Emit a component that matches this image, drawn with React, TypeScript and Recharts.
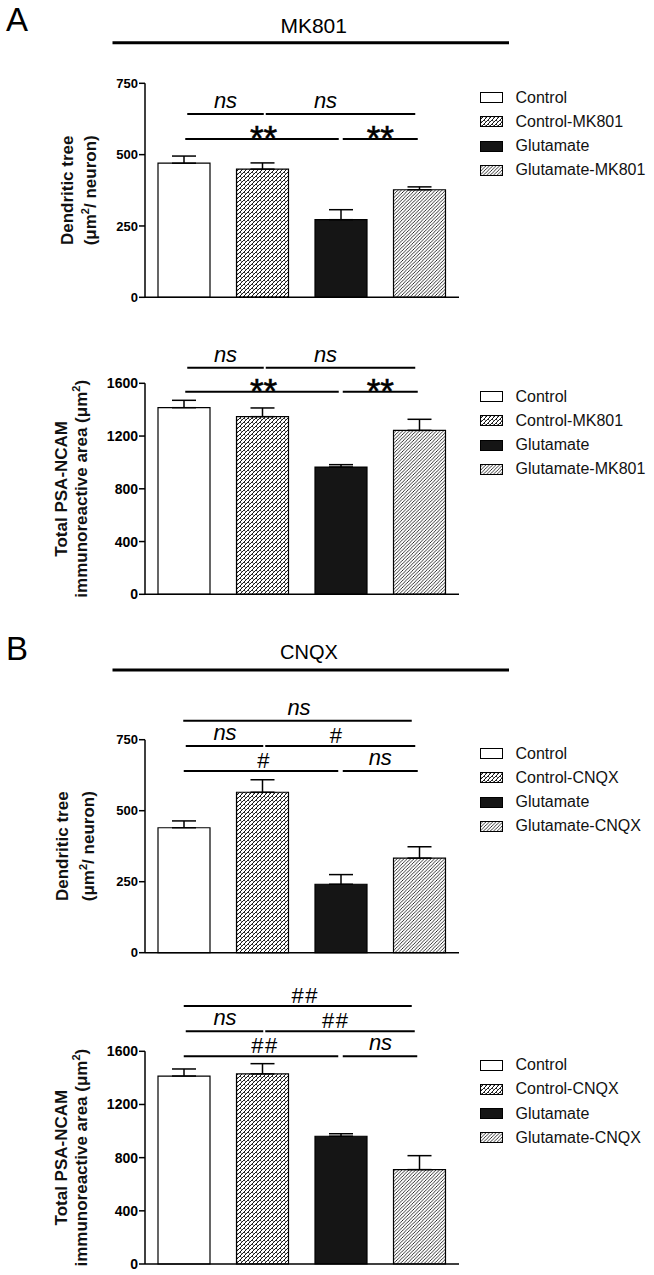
import React from 'react';
import { BarChart, Bar, XAxis, YAxis, ErrorBar, Cell, ReferenceLine, Legend } from 'recharts';

// ---------- data ----------
const mkGroups = ['Control', 'Control-MK801', 'Glutamate', 'Glutamate-MK801'];
const cnqxGroups = ['Control', 'Control-CNQX', 'Glutamate', 'Glutamate-CNQX'];

const mkDendriticMean = [470, 449, 272, 377];
const mkDendriticSem = [25, 22, 35, 10];
const mkPsaMean = [1415, 1347, 965, 1243];
const mkPsaSem = [56, 66, 18, 84];
const cnqxDendriticMean = [440, 565, 241, 333];
const cnqxDendriticSem = [24, 44, 34, 40];
const cnqxPsaMean = [1414, 1430, 961, 710];
const cnqxPsaSem = [53, 77, 19, 105];

const dendriticTicks = [0, 250, 500, 750];
const psaTicks = [0, 400, 800, 1200, 1600];

// significance brackets: from/to are group indices, level in data units
type Sig = { from: number; to: number; level: number; text: string };
const mkDendriticSig: Sig[] = [
  { from: 0, to: 1, level: 642, text: 'ns' },
  { from: 1, to: 3, level: 642, text: 'ns' },
  { from: 0, to: 2, level: 555, text: '**' },
  { from: 2, to: 3, level: 555, text: '**' },
];
const mkPsaSig: Sig[] = [
  { from: 0, to: 1, level: 1718, text: 'ns' },
  { from: 1, to: 3, level: 1718, text: 'ns' },
  { from: 0, to: 2, level: 1536, text: '**' },
  { from: 2, to: 3, level: 1536, text: '**' },
];
const cnqxDendriticSig: Sig[] = [
  { from: 0, to: 3, level: 817, text: 'ns' },
  { from: 0, to: 1, level: 728, text: 'ns' },
  { from: 1, to: 3, level: 728, text: '#' },
  { from: 0, to: 2, level: 640, text: '#' },
  { from: 2, to: 3, level: 640, text: 'ns' },
];
const cnqxPsaSig: Sig[] = [
  { from: 0, to: 3, level: 1941, text: '##' },
  { from: 0, to: 1, level: 1750, text: 'ns' },
  { from: 1, to: 3, level: 1750, text: '##' },
  { from: 0, to: 2, level: 1562, text: '##' },
  { from: 2, to: 3, level: 1562, text: 'ns' },
];

// drawing nudges (pixels): [start dx, end dx, label dx]
const mkNudge = [
  [3, 1, 0],
  [3, -4.5, -15],
  [1, -2.5, 1.5],
  [1.5, -2, 0],
];
const cnqxNudge = [
  [-1, -8, 1.5],
  [1.5, 0.5, 0.5],
  [2.5, -4.5, -4.5],
  [-0.5, -3, 2.3],
  [1.5, -2, 0],
];
const cnqxPsaNudge = [
  [-0.5, -8, 7.5],
  [1.5, 0.5, 0.5],
  [2.5, -5, -4.2],
  [-0.5, -3, 4],
  [1.5, -2.5, 0.5],
];

const fills = ['#ffffff', 'url(#patZig)', '#151515', 'url(#patDiag)'];

const FONT = '"Liberation Sans", Arial, Helvetica, sans-serif';

type TitleSeg = { t: string; sup?: boolean };
const dendriticTitle: TitleSeg[][] = [
  [{ t: 'Dendritic tree' }],
  [{ t: '(\u03bcm' }, { t: '2', sup: true }, { t: '/ neuron)' }],
];
const psaTitle: TitleSeg[][] = [
  [{ t: 'Total PSA-NCAM' }],
  [{ t: 'immunoreactive area (\u03bcm' }, { t: '2', sup: true }, { t: ')' }],
];

function labelStyle(text: string) {
  if (text === 'ns') return { size: 22, italic: true, dy: -6, ls: 0, w: 400 };
  if (text === '**') return { size: 35, italic: false, dy: 11.2, ls: 0, w: 400 };
  if (text === '##') return { size: 22, italic: false, dy: -3.3, ls: 1.5, w: 400 };
  return { size: 22, italic: false, dy: -3, ls: 0, w: 400 };
}

function makeShape(sig: Sig, n: number[]) {
  return (p: any) => {
    const x1 = p.x1 + n[0];
    const x2 = p.x2 + n[1];
    const y = p.y1;
    const st = labelStyle(sig.text);
    return (
      <g>
        <line x1={x1} y1={y} x2={x2} y2={y} stroke="#000" strokeWidth={2} />
        <text
          x={(x1 + x2) / 2 + n[2]}
          y={y + st.dy}
          textAnchor="middle"
          fontSize={st.size}
          fontWeight={st.w}
          fontStyle={st.italic ? 'italic' : 'normal'}
          fontFamily={FONT}
          letterSpacing={st.ls}
          fill="#000"
          stroke={sig.text === '**' ? '#000' : 'none'}
          strokeWidth={sig.text === '**' ? 0.6 : 0}
        >
          {sig.text}
        </text>
      </g>
    );
  };
}

function Swatch({ fill }: { fill: string }) {
  return (
    <svg width={23} height={11} style={{ display: 'block' }}>
      <rect x={0.5} y={0.5} width={22} height={10} fill={fill} stroke="#000" strokeWidth={1} />
    </svg>
  );
}

function LegendBox({ groups }: { groups: string[] }) {
  return (
    <div style={{ fontFamily: FONT, fontSize: 16, color: '#111' }}>
      {groups.map((g, i) => (
        <div key={g} style={{ display: 'flex', alignItems: 'center', height: 24.2, whiteSpace: 'nowrap' }}>
          <Swatch fill={fills[i]} />
          <span style={{ marginLeft: 12.5, lineHeight: '16px' }}>{g}</span>
        </div>
      ))}
    </div>
  );
}

type PanelProps = {
  top: number;
  height: number;
  plotTop: number;
  plotBottom: number;
  groups: string[];
  means: number[];
  sems: number[];
  ticks: number[];
  sigs: Sig[];
  nudges: number[][];
  title: TitleSeg[][];
  titleX: number[];
  tickFont: number;
  legendTop: number;
};

function Panel(props: PanelProps) {
  const { top, height, plotTop, plotBottom, groups, means, sems, ticks, sigs, nudges, title, titleX, tickFont, legendTop } = props;
  const data = groups.map((g, i) => ({ name: g, value: means[i], err: [0, sems[i]] }));
  const margin = { top: plotTop, left: 85, right: 195, bottom: height - plotBottom - 5 };
  const cy = (plotTop + plotBottom) / 2;
  const renderTitle = () => (
    <g>
      {title.map((line, li) => (
        <text
          key={li}
          x={titleX[li]}
          y={cy}
          transform={`rotate(-90, ${titleX[li]}, ${cy})`}
          textAnchor="middle"
          fontSize={17}
          fontWeight={700}
          fontFamily={FONT}
          fill="#111"
        >
          {line.map((s, si) =>
            s.sup ? (
              <tspan key={si} fontSize={11} dy={-7}>
                {s.t}
              </tspan>
            ) : (
              <tspan key={si} dy={si > 0 && line[si - 1].sup ? 7 : 0}>
                {s.t}
              </tspan>
            ),
          )}
        </text>
      ))}
    </g>
  );
  return (
    <div style={{ position: 'absolute', left: 0, top, width: 654, height }}>
      <BarChart width={654} height={height} data={data} margin={margin}>
        <XAxis
          dataKey="name"
          type="category"
          height={5}
          tick={false}
          tickLine={false}
          axisLine={{ stroke: '#000', strokeWidth: 1.5 }}
        />
        <YAxis
          width={60}
          domain={[0, ticks[ticks.length - 1]]}
          ticks={ticks}
          interval={0}
          tickSize={6}
          tickMargin={1}
          tick={{ fill: '#000', fontSize: tickFont, fontWeight: 700, fontFamily: FONT }}
          tickLine={{ stroke: '#000', strokeWidth: 1.5 }}
          axisLine={{ stroke: '#000', strokeWidth: 1.5 }}
          label={{ content: renderTitle }}
        />
        <Bar dataKey="value" barSize={52} isAnimationActive={false}>
          {data.map((d, i) => (
            <Cell key={d.name} fill={fills[i]} stroke="#000" strokeWidth={1.2} />
          ))}
          <ErrorBar dataKey="err" width={12} stroke="#000" strokeWidth={1.5} direction="y" isAnimationActive={false} />
        </Bar>
        {sigs.map((s, i) => (
          <ReferenceLine
            key={i}
            ifOverflow="visible"
            segment={[
              { x: groups[s.from], y: s.level },
              { x: groups[s.to], y: s.level },
            ]}
            shape={makeShape(s, nudges[i])}
          />
        ))}
        <Legend
          layout="vertical"
          align="center"
          verticalAlign="middle"
          wrapperStyle={{ left: 480, top: legendTop, width: 174 }}
          content={() => <LegendBox groups={groups} />}
        />
      </BarChart>
    </div>
  );
}

export default function App() {
  return (
    <div
      style={{
        position: 'absolute',
        left: 0,
        top: 0,
        width: 654,
        height: 1275,
        background: '#fff',
        overflow: 'hidden',
        fontFamily: FONT,
      }}
    >
      <svg width={654} height={1275} style={{ position: 'absolute', left: 0, top: 0, pointerEvents: 'none' }}>
        <defs>
          <pattern id="patZig" width={4} height={4} patternUnits="userSpaceOnUse">
            <rect width={4} height={4} fill="#fff" />
            <path d="M0,4 L4,0 M-1,1 L1,-1 M3,5 L5,3" stroke="#000" strokeWidth={0.9} />
            <path d="M0,0 L1.6,1.6" stroke="#000" strokeWidth={0.8} />
          </pattern>
          <pattern id="patDiag" width={3.4} height={3.4} patternUnits="userSpaceOnUse">
            <rect width={3.4} height={3.4} fill="#fff" />
            <path d="M0,3.4 L3.4,0 M-1,1 L1,-1 M2.4,4.4 L4.4,2.4" stroke="#000" strokeWidth={0.8} />
          </pattern>
        </defs>
        <text x={6} y={30.7} fontSize={33} fontFamily={FONT} fill="#000">
          A
        </text>
        <text x={313.7} y={33.3} fontSize={21} fontFamily={FONT} textAnchor="middle" fill="#000">
          MK801
        </text>
        <line x1={112.5} y1={42.7} x2={509} y2={42.7} stroke="#000" strokeWidth={3} />
        <text x={6} y={660} fontSize={33} fontFamily={FONT} fill="#000">
          B
        </text>
        <text x={309} y={659.3} fontSize={20} fontFamily={FONT} textAnchor="middle" fill="#000">
          CNQX
        </text>
        <line x1={112.5} y1={670} x2={509} y2={670} stroke="#000" strokeWidth={3} />
      </svg>

      <Panel
        top={0}
        height={310}
        plotTop={83.3}
        plotBottom={297.3}
        groups={mkGroups}
        means={mkDendriticMean}
        sems={mkDendriticSem}
        ticks={dendriticTicks}
        sigs={mkDendriticSig}
        nudges={mkNudge}
        title={dendriticTitle}
        titleX={[72.9, 96.4]}
        tickFont={13}
        legendTop={85.6}
      />
      <Panel
        top={310}
        height={310}
        plotTop={73.3}
        plotBottom={284.3}
        groups={mkGroups}
        means={mkPsaMean}
        sems={mkPsaSem}
        ticks={psaTicks}
        sigs={mkPsaSig}
        nudges={mkNudge}
        title={psaTitle}
        titleX={[66.7, 87.2]}
        tickFont={14}
        legendTop={74.6}
      />
      <Panel
        top={620}
        height={340}
        plotTop={119.7}
        plotBottom={332.7}
        groups={cnqxGroups}
        means={cnqxDendriticMean}
        sems={cnqxDendriticSem}
        ticks={dendriticTicks}
        sigs={cnqxDendriticSig}
        nudges={cnqxNudge}
        title={dendriticTitle}
        titleX={[68, 94]}
        tickFont={13}
        legendTop={121.6}
      />
      <Panel
        top={960}
        height={315}
        plotTop={91.3}
        plotBottom={304}
        groups={cnqxGroups}
        means={cnqxPsaMean}
        sems={cnqxPsaSem}
        ticks={psaTicks}
        sigs={cnqxPsaSig}
        nudges={cnqxPsaNudge}
        title={psaTitle}
        titleX={[66.7, 87.2]}
        tickFont={14}
        legendTop={93.2}
      />
    </div>
  );
}
